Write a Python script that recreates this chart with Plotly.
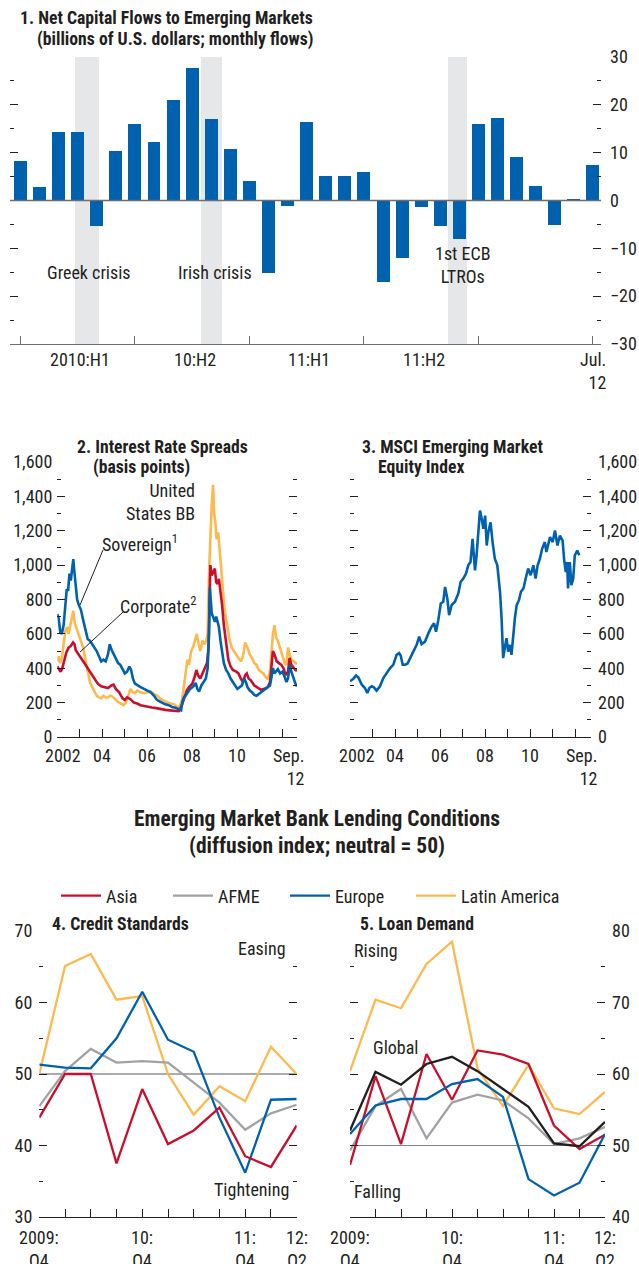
import plotly.graph_objects as go

# ---------------- data ----------------
# Panel 1: net capital flows (billions of US$, monthly)
flow_months = ["2010-01", "2010-02", "2010-03", "2010-04", "2010-05", "2010-06",
               "2010-07", "2010-08", "2010-09", "2010-10", "2010-11", "2010-12",
               "2011-01", "2011-02", "2011-03", "2011-04", "2011-05", "2011-06",
               "2011-07", "2011-08", "2011-09", "2011-10", "2011-11", "2011-12",
               "2012-01", "2012-02", "2012-03", "2012-04", "2012-05", "2012-06",
               "2012-07"]
flow_values = [8.2, 2.8, 14.3, 14.3, -5.3, 10.3, 16.0, 12.2, 21.0, 27.7, 17.0, 10.7,
               4.0, -15.1, -1.1, 16.4, 5.1, 5.1, 5.9, -17.0, -12.0, -1.3, -5.3, -8.1,
               16.0, 17.2, 9.1, 3.0, -5.1, 0.4, 7.4]
flow_tick_months = ["2010-01", "2010-07", "2011-01", "2011-07", "2012-01", "2012-07"]
flow_period_labels = ["2010:H1", "10:H2", "11:H1", "11:H2"]
flow_period_mid = [3, 9, 15, 21]
event_labels = ["Greek crisis", "Irish crisis", "1st ECB<br>LTROs"]
event_start = [2.86, 9.46, 22.4]
event_end = [4.12, 10.56, 23.4]

# Panel 2: interest rate spreads (basis points)
sov_t = [2002.00, 2002.06, 2002.13, 2002.20, 2002.28, 2002.36, 2002.42, 2002.48, 2002.54, 2002.60,
         2002.66, 2002.71, 2002.76, 2002.82, 2002.88, 2002.95, 2003.05, 2003.15, 2003.25, 2003.35,
         2003.45, 2003.55, 2003.65, 2003.75, 2003.85, 2003.95, 2004.05, 2004.15, 2004.25, 2004.33,
         2004.40, 2004.50, 2004.60, 2004.70, 2004.80, 2004.90, 2005.00, 2005.10, 2005.20, 2005.28,
         2005.36, 2005.45, 2005.55, 2005.70, 2005.85, 2006.00, 2006.15, 2006.30, 2006.40, 2006.50,
         2006.65, 2006.80, 2006.95, 2007.10, 2007.25, 2007.40, 2007.50, 2007.55, 2007.62, 2007.70,
         2007.80, 2007.90, 2008.00, 2008.08, 2008.15, 2008.22, 2008.30, 2008.40, 2008.50, 2008.60,
         2008.68, 2008.74, 2008.78, 2008.82, 2008.86, 2008.92, 2009.00, 2009.06, 2009.12, 2009.18,
         2009.25, 2009.32, 2009.40, 2009.50, 2009.60, 2009.70, 2009.80, 2009.90, 2010.00, 2010.10,
         2010.20, 2010.30, 2010.38, 2010.45, 2010.55, 2010.65, 2010.75, 2010.85, 2010.95, 2011.05,
         2011.15, 2011.25, 2011.35, 2011.45, 2011.52, 2011.58, 2011.65, 2011.72, 2011.80, 2011.90,
         2012.00, 2012.10, 2012.18, 2012.25, 2012.33, 2012.40, 2012.50, 2012.58, 2012.65]
sov_v = [715, 690, 610, 600, 650, 760, 860, 850, 950, 910,
         1000, 1035, 960, 870, 800, 770, 740, 680, 620, 570,
         560, 540, 520, 500, 470, 440, 450, 440, 480, 540,
         510, 480, 460, 430, 420, 390, 370, 380, 410, 390,
         340, 310, 300, 290, 280, 270, 260, 240, 220, 210,
         200, 190, 185, 175, 170, 160, 155, 200, 230, 240,
         260, 280, 290, 300, 315, 280, 265, 300, 320, 340,
         400, 600, 870, 780, 720, 700, 670, 700, 660, 640,
         560, 490, 430, 390, 370, 340, 320, 300, 280, 290,
         300, 340, 320, 290, 270, 260, 245, 240, 250, 260,
         265, 275, 290, 300, 350, 400, 370, 380, 395, 370,
         380, 350, 320, 340, 420, 380, 340, 310, 295]

corp_t = [2002.00, 2002.08, 2002.15, 2002.22, 2002.30, 2002.40, 2002.50, 2002.60, 2002.70, 2002.76,
          2002.82, 2002.90, 2003.00, 2003.10, 2003.20, 2003.35, 2003.50, 2003.65, 2003.80, 2003.95,
          2004.10, 2004.25, 2004.40, 2004.50, 2004.60, 2004.75, 2004.90, 2005.00, 2005.10, 2005.25,
          2005.40, 2005.55, 2005.70, 2005.85, 2006.00, 2006.20, 2006.40, 2006.60, 2006.80, 2007.00,
          2007.20, 2007.40, 2007.55, 2007.65, 2007.75, 2007.85, 2008.00, 2008.10, 2008.18, 2008.25,
          2008.35, 2008.45, 2008.55, 2008.65, 2008.72, 2008.76, 2008.80, 2008.86, 2008.92, 2009.00,
          2009.06, 2009.12, 2009.18, 2009.25, 2009.32, 2009.40, 2009.50, 2009.60, 2009.70, 2009.80,
          2009.95, 2010.05, 2010.15, 2010.25, 2010.35, 2010.42, 2010.50, 2010.60, 2010.75, 2010.90,
          2011.05, 2011.20, 2011.35, 2011.45, 2011.52, 2011.58, 2011.65, 2011.75, 2011.85, 2011.95,
          2012.05, 2012.15, 2012.25, 2012.32, 2012.40, 2012.50, 2012.58, 2012.65]
corp_v = [410, 395, 380, 400, 440, 490, 520, 530, 550, 540,
          505, 490, 470, 455, 430, 400, 370, 340, 310, 295,
          290, 285, 300, 305, 280, 260, 225, 215, 230, 220,
          200, 195, 185, 180, 178, 172, 168, 162, 158, 155,
          152, 150, 190, 230, 270, 290, 310, 350, 390, 360,
          340, 370, 400, 430, 520, 850, 1000, 940, 960, 980,
          900, 890, 920, 850, 770, 650, 560, 450, 410, 390,
          380, 370, 340, 320, 360, 370, 340, 330, 300, 285,
          275, 280, 290, 320, 430, 500, 480, 440, 430, 420,
          400, 360, 380, 460, 420, 400, 390, 385]

bb_t = [2002.00, 2002.06, 2002.12, 2002.20, 2002.28, 2002.36, 2002.44, 2002.50, 2002.58, 2002.66,
        2002.71, 2002.78, 2002.86, 2002.95, 2003.05, 2003.15, 2003.25, 2003.35, 2003.45, 2003.55,
        2003.65, 2003.75, 2003.85, 2003.95, 2004.05, 2004.15, 2004.25, 2004.35, 2004.45, 2004.55,
        2004.65, 2004.75, 2004.85, 2004.95, 2005.05, 2005.15, 2005.25, 2005.35, 2005.45, 2005.55,
        2005.70, 2005.85, 2006.00, 2006.15, 2006.30, 2006.45, 2006.60, 2006.75, 2006.90, 2007.05,
        2007.20, 2007.35, 2007.45, 2007.55, 2007.62, 2007.70, 2007.78, 2007.85, 2007.95, 2008.05,
        2008.12, 2008.20, 2008.28, 2008.35, 2008.45, 2008.55, 2008.62, 2008.68, 2008.74, 2008.80,
        2008.86, 2008.92, 2008.97, 2009.02, 2009.08, 2009.15, 2009.22, 2009.30, 2009.38, 2009.45,
        2009.55, 2009.65, 2009.75, 2009.85, 2009.95, 2010.05, 2010.15, 2010.25, 2010.35, 2010.45,
        2010.55, 2010.65, 2010.75, 2010.85, 2010.95, 2011.05, 2011.15, 2011.25, 2011.35, 2011.45,
        2011.52, 2011.58, 2011.65, 2011.72, 2011.80, 2011.90, 2012.00, 2012.10, 2012.18, 2012.25,
        2012.32, 2012.40, 2012.50, 2012.58, 2012.65]
bb_v = [440, 470, 430, 460, 540, 620, 640, 600, 650, 700,
        735, 660, 630, 600, 560, 520, 450, 380, 320, 290,
        260, 240, 230, 225, 240, 230, 230, 240, 235, 220,
        210, 200, 190, 185, 200, 240, 280, 260, 255, 270,
        260, 255, 260, 265, 250, 240, 220, 210, 200, 195,
        190, 175, 180, 220, 300, 380, 450, 420, 500, 530,
        560, 600, 540, 500, 560, 540, 560, 600, 950, 1200,
        1350, 1467, 1300, 1250, 1150, 1190, 1050, 950, 820, 720,
        650, 570, 520, 500, 480, 460, 440, 470, 550, 520,
        480, 460, 430, 420, 390, 380, 370, 350, 335, 380,
        500, 600, 650, 580, 560, 520, 470, 430, 420, 520,
        480, 450, 440, 430, 425]

# Panel 3: MSCI Emerging Market equity index
msci_t = [2002.00, 2002.15, 2002.27, 2002.37, 2002.52, 2002.66, 2002.77, 2002.86, 2002.96, 2003.06,
          2003.18, 2003.33, 2003.48, 2003.63, 2003.78, 2003.92, 2004.07, 2004.18, 2004.25, 2004.34,
          2004.44, 2004.55, 2004.66, 2004.81, 2004.96, 2005.07, 2005.18, 2005.33, 2005.48, 2005.62,
          2005.73, 2005.82, 2005.92, 2006.03, 2006.14, 2006.22, 2006.32, 2006.40, 2006.51, 2006.66,
          2006.81, 2006.91, 2007.03, 2007.15, 2007.25, 2007.35, 2007.44, 2007.55, 2007.62, 2007.70,
          2007.77, 2007.85, 2007.92, 2008.00, 2008.07, 2008.14, 2008.24, 2008.33, 2008.43, 2008.54,
          2008.66, 2008.73, 2008.80, 2008.87, 2008.95, 2009.02, 2009.10, 2009.17, 2009.25, 2009.32,
          2009.40, 2009.50, 2009.59, 2009.70, 2009.80, 2009.91, 2010.02, 2010.14, 2010.24, 2010.33,
          2010.43, 2010.53, 2010.65, 2010.72, 2010.88, 2011.00, 2011.10, 2011.21, 2011.32, 2011.44,
          2011.51, 2011.58, 2011.64, 2011.68, 2011.76, 2011.83, 2011.91, 2011.98, 2012.09, 2012.18]
msci_v = [324, 339, 357, 347, 305, 285, 256, 285, 295, 289,
          270, 295, 343, 372, 401, 420, 478, 488, 474, 420,
          420, 426, 459, 497, 536, 584, 540, 555, 603, 642,
          661, 613, 680, 777, 787, 873, 806, 709, 767, 787,
          835, 902, 922, 951, 999, 1018, 1153, 970, 1057, 1211,
          1317, 1269, 1211, 1288, 1114, 1191, 1249, 1134, 1037, 999,
          845, 690, 459, 517, 575, 497, 536, 478, 613, 690,
          767, 796, 845, 864, 922, 980, 941, 999, 922, 999,
          1037, 1095, 1134, 1076, 1163, 1134, 1201, 1114, 1172, 1143,
          1028, 960, 1018, 864, 1018, 883, 922, 1057, 1085, 1057]
year_ticks = [2002, 2003, 2004, 2005, 2006, 2007, 2008, 2009, 2010, 2011, 2012]
year_labels = ["2002", "04", "06", "08", "10"]
year_label_pos = [2002, 2004, 2006, 2008, 2010]

# Panels 4-5: bank lending conditions (diffusion index)
quarters = ["2009Q4", "2010Q1", "2010Q2", "2010Q3", "2010Q4", "2011Q1",
            "2011Q2", "2011Q3", "2011Q4", "2012Q1", "2012Q2"]
quarter_labels = ["2009:<br>Q4", "10:<br>Q4", "11:<br>Q4", "12:<br>Q2"]
quarter_label_pos = ["2009Q4", "2010Q4", "2011Q4", "2012Q2"]
credit_asia = [43.9, 50.0, 50.0, 37.5, 47.9, 40.2, 42.1, 45.3, 38.5, 37.0, 42.8]
credit_afme = [45.5, 50.4, 53.5, 51.6, 51.8, 51.6, 48.8, 46.0, 42.2, 44.5, 45.7]
credit_europe = [51.3, 50.9, 50.8, 55.0, 61.5, 54.8, 53.1, 43.9, 36.2, 46.4, 46.5]
credit_latam = [50.0, 65.1, 66.8, 60.4, 60.9, 50.0, 44.3, 48.3, 46.2, 53.8, 50.0]
demand_asia = [47.3, 59.7, 50.2, 62.8, 56.4, 63.3, 62.7, 61.4, 52.8, 49.5, 51.5]
demand_afme = [49.3, 55.5, 57.9, 51.0, 56.0, 57.1, 56.3, 53.8, 50.2, 51.0, 52.6]
demand_europe = [51.6, 55.6, 56.5, 56.5, 58.6, 59.3, 56.8, 45.3, 43.0, 44.8, 51.6]
demand_latam = [60.4, 70.4, 69.2, 75.4, 78.5, 60.8, 55.5, 61.3, 55.2, 54.4, 57.5]
demand_global = [52.1, 60.3, 58.5, 61.4, 62.4, 60.4, 57.9, 55.4, 50.3, 49.9, 53.3]
neutral = 50

# ---------------- style ----------------
W, H = 639, 1264
FONT = "Roboto Condensed, Roboto, sans-serif"
TXT = "#231f20"
AXG = "#6d6e71"
BLUE = "#0061ae"
RED = "#c8102e"
GRAY = "#a0a2a5"
YELLOW = "#fdb94e"
BLACK = "#231f20"
SHADE = "#e6e7e8"
FS = 18
TS = 17.7
SEC = 21.5


def X(p):
    return p / W


def Y(p):
    return 1 - p / H


fig = go.Figure()

# Panel 1 bars
fig.add_trace(go.Bar(x=flow_months, y=flow_values, marker=dict(color=BLUE, line=dict(width=0)),
                     width=0.68, xaxis="x", yaxis="y", showlegend=False, hoverinfo="skip"))

# Panel 2 lines
fig.add_trace(go.Scatter(x=bb_t, y=bb_v, mode="lines", line=dict(color=YELLOW, width=2.6),
                         xaxis="x2", yaxis="y3", showlegend=False))
fig.add_trace(go.Scatter(x=corp_t, y=corp_v, mode="lines", line=dict(color=RED, width=2.6),
                         xaxis="x2", yaxis="y3", showlegend=False))
fig.add_trace(go.Scatter(x=sov_t, y=sov_v, mode="lines", line=dict(color=BLUE, width=2.6),
                         xaxis="x2", yaxis="y3", showlegend=False))

# Panel 3
fig.add_trace(go.Scatter(x=msci_t, y=msci_v, mode="lines", line=dict(color=BLUE, width=2.6),
                         xaxis="x3", yaxis="y5", showlegend=False))

# Panel 4 (each series has its own one-item legend so the items sit where the reference puts them)
p4 = [("Latin America", credit_latam, YELLOW, "legend4"), ("AFME", credit_afme, GRAY, "legend2"),
      ("Europe", credit_europe, BLUE, "legend3"), ("Asia", credit_asia, RED, "legend")]
for name, vals, col, lg in p4:
    fig.add_trace(go.Scatter(x=quarters, y=vals, mode="lines", name=name,
                             line=dict(color=col, width=2.3), legend=lg,
                             xaxis="x4", yaxis="y7", showlegend=True))
# Panel 5
p5 = [(demand_latam, YELLOW), (demand_afme, GRAY), (demand_asia, RED),
      (demand_europe, BLUE), (demand_global, BLACK)]
for vals, col in p5:
    fig.add_trace(go.Scatter(x=quarters, y=vals, mode="lines", line=dict(color=col, width=2.3),
                             xaxis="x5", yaxis="y9", showlegend=False))

# invisible anchors so that the secondary (mirror) axes get drawn
for xa, ya, xv, yv in [("x", "y2", flow_months[0], 0), ("x2", "y4", year_ticks[0], 0),
                       ("x3", "y6", year_ticks[0], 0), ("x4", "y8", quarters[0], neutral),
                       ("x5", "y10", quarters[0], neutral)]:
    fig.add_trace(go.Scatter(x=[xv], y=[yv], mode="markers", marker=dict(opacity=0, size=1),
                             xaxis=xa, yaxis=ya, showlegend=False, hoverinfo="skip"))

common = dict(showgrid=False, zeroline=False, fixedrange=True, tickcolor=TXT, automargin=False,
              tickfont=dict(size=FS, color=TXT, family=FONT))


def yax(dom, rng, major, minor, labels, side, anchor, overlay=None, fmt=None, standoff=None):
    d = dict(common, domain=dom, range=rng, tickmode="array", tickvals=major, ticks="inside",
             ticklen=8, tickwidth=1.2, showticklabels=labels, side=side, anchor=anchor,
             showline=False,
             minor=dict(tickmode="array", tickvals=minor, ticks="inside", ticklen=4,
                        tickwidth=1.2, tickcolor=TXT))
    if overlay:
        d["overlaying"] = overlay
    if fmt:
        d["tickformat"] = fmt
    if standoff is not None:
        d["ticklabelstandoff"] = standoff
    return d


def xax(dom, rng, ticks, anchor, linecol, typ="linear"):
    return dict(common, domain=dom, range=rng, type=typ, tickmode="array", tickvals=ticks,
                ticks="inside", ticklen=8, tickwidth=1.2, tickcolor=linecol,
                showticklabels=False, anchor=anchor, showline=True, linecolor=linecol, linewidth=1.3)


p1_major = [-30, -20, -10, 0, 10, 20, 30]
p1_minor = [-25, -15, -5, 5, 15, 25]
bp_major = [0, 200, 400, 600, 800, 1000, 1200, 1400, 1600]
bp_minor = [100, 300, 500, 700, 900, 1100, 1300, 1500]
c_major = [30, 40, 50, 60, 70]
c_minor = [35, 45, 55, 65]
d_major = [40, 50, 60, 70, 80]
d_minor = [45, 55, 65, 75]

p1y = [Y(344), Y(57)]
p23y = [Y(737), Y(462)]
p45y = [Y(1217), Y(931)]

fig.update_layout(
    xaxis=xax([X(10), X(601)], [-0.545, 30.42], flow_tick_months, "y", AXG, "category"),
    yaxis=yax(p1y, [-30, 30], p1_major, p1_minor, False, "left", "x"),
    yaxis2=yax(p1y, [-30, 30], p1_major, p1_minor, True, "right", "x", overlay="y", standoff=8),
    xaxis2=xax([X(57.3), X(297)], [2002, 2012.65], year_ticks, "y3", TXT),
    yaxis3=yax(p23y, [0, 1600], bp_major, bp_minor, True, "left", "x2", fmt=",", standoff=4),
    yaxis4=yax(p23y, [0, 1600], bp_major, bp_minor, False, "right", "x2", overlay="y3"),
    xaxis3=xax([X(350), X(591)], [2002, 2012.70], year_ticks, "y5", TXT),
    yaxis5=yax(p23y, [0, 1600], bp_major, bp_minor, False, "left", "x3"),
    yaxis6=yax(p23y, [0, 1600], bp_major, bp_minor, True, "right", "x3", overlay="y5", fmt=",", standoff=6),
    xaxis4=xax([X(39.3), X(296.7)], [0, 10], quarters, "y7", TXT, "category"),
    yaxis7=yax(p45y, [30, 70], c_major, c_minor, True, "left", "x4", standoff=6),
    yaxis8=yax(p45y, [30, 70], c_major, c_minor, False, "right", "x4", overlay="y7"),
    xaxis5=xax([X(350), X(605)], [0, 10], quarters, "y9", TXT, "category"),
    yaxis9=yax(p45y, [40, 80], d_major, d_minor, False, "left", "x5"),
    yaxis10=yax(p45y, [40, 80], d_major, d_minor, True, "right", "x5", overlay="y9", standoff=6),
)

shapes = []
for s, e in zip(event_start, event_end):
    shapes.append(dict(type="rect", xref="x", yref="y", x0=s, x1=e, y0=-30, y1=30,
                       fillcolor=SHADE, line=dict(width=0), layer="below"))
shapes.append(dict(type="line", xref="x domain", yref="y", x0=0, x1=1, y0=0, y1=0,
                   line=dict(color=AXG, width=1.5), layer="above"))
shapes.append(dict(type="line", xref="x4 domain", yref="y7", x0=0, x1=1, y0=neutral, y1=neutral,
                   line=dict(color="#58595b", width=1.1), layer="below"))
shapes.append(dict(type="line", xref="x5 domain", yref="y9", x0=0, x1=1, y0=neutral, y1=neutral,
                   line=dict(color="#808285", width=1.1), layer="below"))
# leader lines panel 2
shapes.append(dict(type="line", xref="x2", yref="y3", x0=2004.03, y0=1088, x1=2003.01, y1=768,
                   line=dict(color=TXT, width=1)))
shapes.append(dict(type="line", xref="x2", yref="y3", x0=2004.92, y0=727, x1=2003.01, y1=494,
                   line=dict(color=TXT, width=1)))

ann = []


def A(text, x, y, xref="paper", yref="paper", xanchor="center", yanchor="middle",
      size=FS, bold=False, align="center", xshift=0):
    t = "<b>%s</b>" % text if bold else text
    ann.append(dict(text=t, x=x, y=y, xref=xref, yref=yref, xanchor=xanchor, yanchor=yanchor,
                    showarrow=False, align=align, xshift=xshift,
                    font=dict(size=size, color=TXT, family=FONT)))


# Panel 1 titles
A("1. Net Capital Flows to Emerging Markets", X(18), Y(18), xanchor="left", bold=True, size=TS)
A("(billions of U.S. dollars; monthly flows)", X(35), Y(40), xanchor="left", bold=True, size=TS)
for lab, pos in zip(flow_period_labels, flow_period_mid):
    A(lab, pos, Y(360), xref="x", xshift=2.5)
A("Jul.<br>12", X(608), Y(347), xanchor="right", yanchor="top", align="right")
A(event_labels[0], (event_start[0] + event_end[0]) / 2 + 0.1, -15.1, xref="x", yref="y")
A(event_labels[1], (event_start[1] + event_end[1]) / 2 + 0.2, -15.1, xref="x", yref="y")
A(event_labels[2], (event_start[2] + event_end[2]) / 2 + 0.3, -13.5, xref="x", yref="y")

# Panel 2/3
A("2. Interest Rate Spreads", X(75), Y(447), xanchor="left", bold=True, size=TS)
A("(basis points)", X(91), Y(467), xanchor="left", bold=True, size=TS)
A("3. MSCI Emerging Market", X(360), Y(447), xanchor="left", bold=True, size=TS)
A("Equity Index", X(376), Y(467), xanchor="left", bold=True, size=TS)
for lab, pos in zip(year_labels, year_label_pos):
    A(lab, pos, Y(755), xref="x2", xshift=6 if lab == "2002" else 0)
    A(lab, pos, Y(755), xref="x3", xshift=7 if lab == "2002" else 0)
A("Sep.<br>12", X(307), Y(743), xanchor="right", yanchor="top", align="right")
A("Sep.<br>12", X(600), Y(743), xanchor="right", yanchor="top", align="right")
A("United<br>States BB", 2008.21, 1370, xref="x2", yref="y3", xanchor="right", align="right")
A("Sovereign<sup>1</sup>", 2003.9, 1128, xref="x2", yref="y3", xanchor="left")
A("Corporate<sup>2</sup>", 2004.7, 768, xref="x2", yref="y3", xanchor="left")

# Section title
A("Emerging Market Bank Lending Conditions", X(317), Y(818), bold=True, size=SEC)
A("(diffusion index; neutral = 50)", X(317), Y(845), bold=True, size=SEC)

# Panels 4/5
A("4. Credit Standards", X(50), Y(924), xanchor="left", bold=True, size=TS)
A("5. Loan Demand", X(358), Y(924), xanchor="left", bold=True, size=TS)
A("Easing", X(288), 67.5, yref="y7", xanchor="right")
A("Tightening", X(291), 33.8, yref="y7", xanchor="right")
A("Rising", X(352), 77.3, yref="y9", xanchor="left")
A("Global", X(371), 63.7, yref="y9", xanchor="left")
A("Falling", X(352), 43.5, yref="y9", xanchor="left")
for lab, pos in zip(quarter_labels, quarter_label_pos):
    A(lab, pos, Y(1225), xref="x4", yanchor="top")
    A(lab, pos, Y(1225), xref="x5", yanchor="top")


def leg(xpx):
    return dict(orientation="h", x=X(xpx), y=Y(896), xanchor="left", yanchor="middle",
                bgcolor="rgba(0,0,0,0)", borderwidth=0, itemwidth=40,
                font=dict(size=FS, color=TXT, family=FONT), itemclick=False,
                itemdoubleclick=False)


fig.update_layout(
    width=W, height=H, margin=dict(l=0, r=0, t=0, b=0, pad=0, autoexpand=False),
    paper_bgcolor="white", plot_bgcolor="rgba(0,0,0,0)",
    font=dict(family=FONT, size=FS, color=TXT),
    shapes=shapes, annotations=ann, bargap=0,
    showlegend=True,
    legend=leg(56), legend2=leg(168), legend3=leg(285), legend4=leg(411),
)

fig.write_html("out.html", config={"displayModeBar": False},
               post_script="document.body.style.margin='0';")
